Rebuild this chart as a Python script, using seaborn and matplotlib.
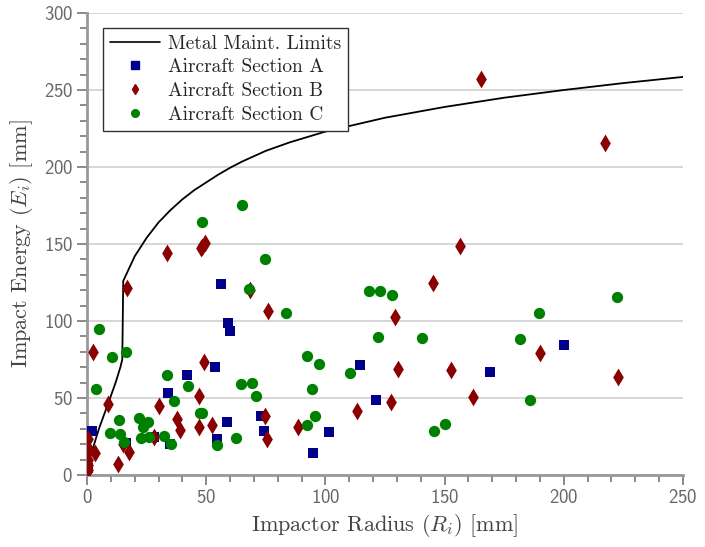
import matplotlib
matplotlib.use('Agg')
import matplotlib.pyplot as plt
from matplotlib.ticker import MultipleLocator
from matplotlib.lines import Line2D
import seaborn as sns
import pandas as pd

# ─── Data ────────────────────────────────────────────────────
limit_r = [0, 2, 5, 9, 12, 14, 14.8, 15.2, 17, 20, 25, 30, 35, 40, 45, 50, 55,
           60, 65, 75, 85, 100, 125, 150, 175, 200, 225, 250]
limit_e = [5, 15, 30, 47, 60, 70, 75, 126, 132, 142, 154, 164, 172, 179, 185,
           190, 195, 199.5, 203.5, 210.5, 216, 223, 232, 239, 245, 250, 254.5, 258.5]

r_a = [0.1, 0.5, 2.1, 16.2, 28.2, 33.8, 34.8, 41.8, 53.7, 54.4, 56.2, 58.6,
       59.1, 59.8, 73.0, 74.4, 94.9, 101.4, 114.5, 121.1, 169.0, 200.1]
e_a = [3.7, 4.3, 28.6, 21.0, 24.9, 53.4, 20.1, 65.1, 70.3, 23.1, 124.0, 34.6,
       98.9, 93.5, 38.3, 28.4, 14.1, 28.1, 71.6, 48.9, 67.1, 84.4]

r_b = [0.5, 0.5, 0.5, 0.5, 0.5, 2.4, 3.5, 8.7, 13.0, 15.2, 16.6, 17.5, 28.1,
       30.3, 33.7, 37.8, 39.0, 46.8, 46.8, 47.8, 48.1, 49.1, 49.6, 52.4, 68.3,
       74.7, 75.4, 76.0, 88.4, 113.4, 127.4, 129.2, 130.6, 145.3, 152.5, 156.5,
       162.0, 165.3, 189.9, 217.2, 222.6]
e_b = [23.2, 17.3, 9.7, 6.5, 3.2, 79.7, 14.0, 45.9, 6.9, 20.1, 121.6, 14.7, 24.9,
       44.8, 144.4, 36.1, 29.2, 51.5, 31.0, 147.2, 148.3, 73.2, 150.4, 32.7, 120.0,
       38.3, 23.2, 106.5, 31.4, 41.6, 47.6, 102.8, 68.8, 124.5, 68.2, 148.4,
       50.8, 257.1, 79.0, 215.4, 63.8]

r_c = [3.8, 5.2, 9.6, 10.6, 13.4, 13.8, 15.6, 16.5, 21.9, 22.7, 23.4, 25.7,
       26.1, 32.3, 33.4, 35.1, 36.6, 42.2, 47.5, 48.1, 48.1, 54.7, 62.5, 64.5,
       65.0, 68.1, 69.1, 70.9, 74.8, 83.5, 92.1, 92.1, 94.2, 95.6, 97.2, 110.3,
       118.3, 122.2, 122.9, 127.9, 140.4, 145.4, 150.0, 181.6, 185.8, 189.6, 222.3]
e_c = [55.6, 94.6, 27.1, 76.8, 35.7, 26.4, 21.6, 79.9, 36.8, 23.8, 31.0, 34.2,
       24.9, 25.3, 64.9, 20.1, 48.3, 58.0, 40.0, 164.1, 40.0, 19.3, 23.8, 58.9,
       175.5, 120.6, 59.7, 51.3, 140.5, 105.2, 77.5, 32.2, 56.1, 38.3, 72.1, 66.0,
       119.5, 89.8, 119.5, 117.1, 89.2, 28.6, 33.1, 88.3, 48.7, 105.4, 115.6]

sections = ['Aircraft Section A', 'Aircraft Section B', 'Aircraft Section C']

df = pd.concat([
    pd.DataFrame({'r': r_a, 'e': e_a, 'section': sections[0]}),
    pd.DataFrame({'r': r_b, 'e': e_b, 'section': sections[1]}),
    pd.DataFrame({'r': r_c, 'e': e_c, 'section': sections[2]}),
], ignore_index=True)
limit_df = pd.DataFrame({'r': limit_r, 'e': limit_e})

# ─── Style ───────────────────────────────────────────────────
sns.set_style('white')
plt.rcParams['font.family'] = ['cmr10', 'DejaVu Serif']
plt.rcParams['mathtext.fontset'] = 'cm'
plt.rcParams['axes.formatter.use_mathtext'] = True

colors = {sections[0]: '#00008b', sections[1]: '#8b0000', sections[2]: '#008000'}
markers = {sections[0]: 's', sections[1]: 'd', sections[2]: 'o'}
sizes = {sections[0]: 48, sections[1]: 82, sections[2]: 66}

fig = plt.figure(figsize=(7.05, 5.47), dpi=100)
ax = fig.add_axes([0.1234, 0.1316, 0.8454, 0.8446])

ax.yaxis.grid(True, color='#d3d3d3', linewidth=1.3)
ax.set_axisbelow(True)

sns.lineplot(data=limit_df, x='r', y='e', color='black', linewidth=1.3,
             ax=ax, zorder=3, sort=False)

for sec in sections:
    sub = df[df['section'] == sec]
    sns.scatterplot(data=sub, x='r', y='e', color=colors[sec], marker=markers[sec],
                    s=sizes[sec], linewidth=0, ax=ax, zorder=4)

ax.set_xlim(0, 250)
ax.set_ylim(0, 300)
ax.xaxis.set_major_locator(MultipleLocator(50))
ax.yaxis.set_major_locator(MultipleLocator(50))
ax.xaxis.set_minor_locator(MultipleLocator(10))
ax.yaxis.set_minor_locator(MultipleLocator(10))

for side in ['top', 'right']:
    ax.spines[side].set_visible(False)
for side in ['left', 'bottom']:
    ax.spines[side].set_color('#999999')
    ax.spines[side].set_linewidth(2)

ax.tick_params(which='major', direction='out', length=7, width=1.2, color='#777777',
               labelcolor='#666666', labelsize=13.5, pad=3, labelfontfamily='cmss10')
ax.tick_params(which='minor', direction='out', length=5, width=1.2, color='#777777')
ax.tick_params(axis='x', which='both', bottom=True)
ax.tick_params(axis='y', which='both', left=True)

ax.set_xlabel(r'Impactor Radius ($R_i$) [mm]', fontsize=16, color='#444444', labelpad=4)
ax.set_ylabel(r'Impact Energy ($E_i$) [mm]', fontsize=16, color='#444444', labelpad=6)

handles = [Line2D([], [], color='black', linewidth=1.2, label='Metal Maint. Limits')]
for sec in sections:
    handles.append(Line2D([], [], linestyle='none', marker=markers[sec],
                          color=colors[sec], markersize=5.5, label=sec))
leg = ax.legend(handles=handles, loc='upper left', bbox_to_anchor=(0.027, 0.968),
                fontsize=14, frameon=True, fancybox=False, framealpha=1,
                edgecolor='#333333', borderpad=0.35, labelspacing=0.3,
                handlelength=2.6, handletextpad=0.4, borderaxespad=0)
leg.get_frame().set_linewidth(1.0)

fig.savefig('out.png', dpi=100)
